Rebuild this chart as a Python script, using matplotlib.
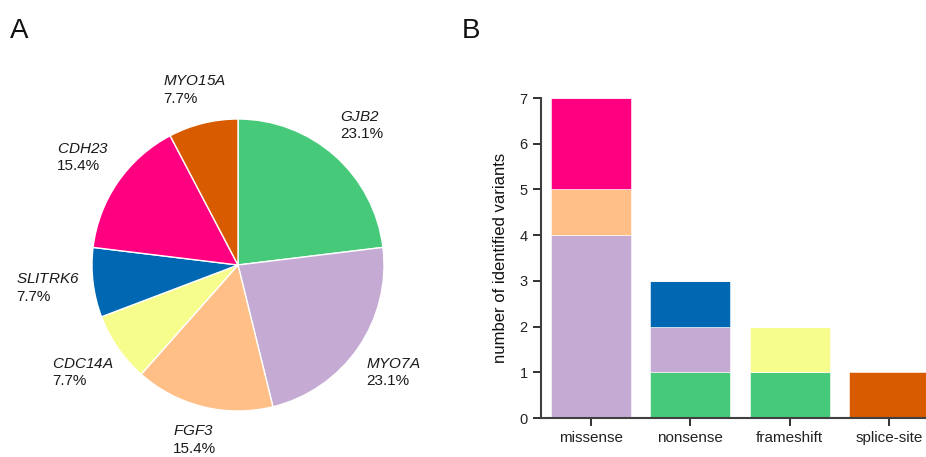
import numpy as np
import matplotlib
matplotlib.use("Agg")
import matplotlib.pyplot as plt

plt.rcParams['font.family'] = ['Liberation Sans', 'DejaVu Sans']
# gene names are written in math mode so they come out fully italic (digits too)
plt.rcParams['mathtext.fontset'] = 'custom'
plt.rcParams['mathtext.it'] = 'Liberation Sans:italic'
plt.rcParams['mathtext.rm'] = 'Liberation Sans:italic'

# data
genes = ['GJB2', 'MYO7A', 'FGF3', 'CDC14A', 'SLITRK6', 'CDH23', 'MYO15A']
gene_counts = [3, 3, 2, 1, 1, 2, 1]
colors = ['#47c97a', '#c5abd3', '#ffbf86', '#f7fd8c', '#0068b2', '#ff0080', '#d95b00']

variant_types = ['missense', 'nonsense', 'frameshift', 'splice-site']
# variants per gene for each variant type (same order as genes)
variants = {
    'GJB2':    [0, 1, 1, 0],
    'MYO7A':   [4, 1, 0, 0],
    'FGF3':    [1, 0, 0, 0],
    'CDC14A':  [0, 0, 1, 0],
    'SLITRK6': [0, 1, 0, 0],
    'CDH23':   [2, 0, 0, 0],
    'MYO15A':  [0, 0, 0, 1],
}

W, H = 926, 457
fig = plt.figure(figsize=(W / 100, H / 100), dpi=100)

# panel A - pie
cx, cy, r = 238, 265, 146
ax1 = fig.add_axes([(cx - r) / W, (H - cy - r) / H, 2 * r / W, 2 * r / H])
wedges, _ = ax1.pie(gene_counts, colors=colors, startangle=90, counterclock=False,
                    wedgeprops=dict(edgecolor='white', linewidth=1), radius=1)
ax1.set_xlim(-1, 1)
ax1.set_ylim(-1, 1)
total = sum(gene_counts)
for w, g, c in zip(wedges, genes, gene_counts):
    ang = np.deg2rad((w.theta1 + w.theta2) / 2)
    d = 1.21 + 0.1 * abs(np.cos(ang))
    ax1.text(d * np.cos(ang), d * np.sin(ang),
             r'$\mathrm{' + g + '}$' + '\n' + f'{100 * c / total:.1f}%',
             ha='center', va='center', multialignment='left',
             fontsize=11, color='#1a1a1a', linespacing=1.3)

# panel B - stacked bars
ax2 = fig.add_axes([541 / W, (H - 418) / H, 398 / W, 320 / H])
x = np.arange(len(variant_types))
bottom = np.zeros(len(variant_types))
for g, col in zip(genes, colors):
    vals = np.array(variants[g])
    ax2.bar(x, vals, 0.8, bottom=bottom, color=col, edgecolor='white', linewidth=0.4)
    bottom += vals

ax2.set_xlim(-0.5, 3.5)
ax2.set_ylim(0, 7)
ax2.set_yticks(range(0, 8))
ax2.set_xticks(x)
ax2.set_xticklabels(variant_types, fontsize=11, color='#222222')
ax2.tick_params(axis='y', labelsize=10.5, colors='#222222', length=6, width=1.3)
ax2.tick_params(axis='x', length=6, width=1.3, colors='#222222')
ax2.set_ylabel('number of identified variants', fontsize=12, color='#111111', labelpad=8)
for s in ['top', 'right']:
    ax2.spines[s].set_visible(False)
for s in ['left', 'bottom']:
    ax2.spines[s].set_color('#404040')
    ax2.spines[s].set_linewidth(1.5)

fig.text(10 / W, 1 - 38 / H, 'A', fontsize=20, color='#111111')
fig.text(462 / W, 1 - 38 / H, 'B', fontsize=20, color='#111111')

fig.savefig('out.png', dpi=100)
